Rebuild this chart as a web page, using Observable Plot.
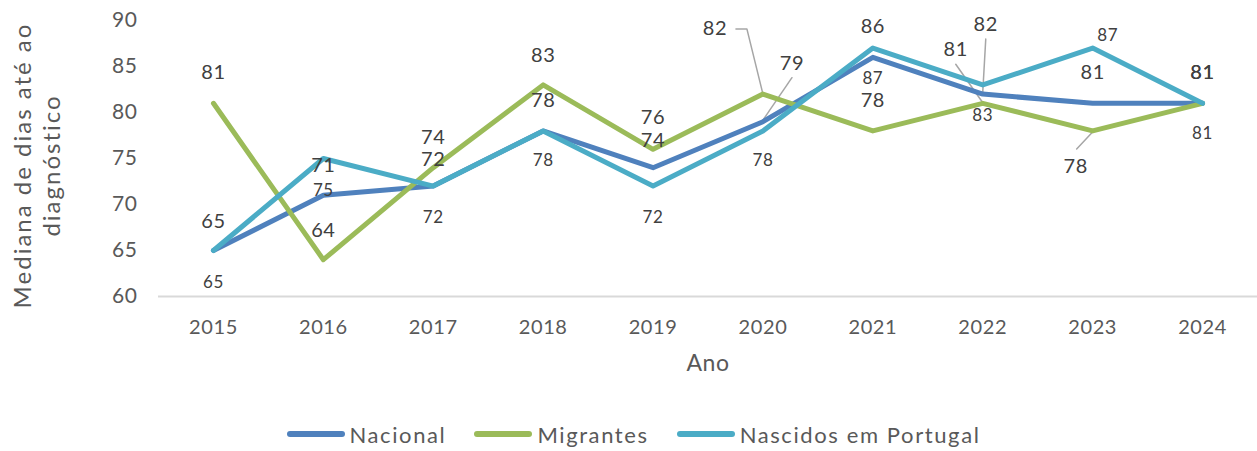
<!DOCTYPE html>
<html><head><meta charset="utf-8">
<script src="https://cdn.jsdelivr.net/npm/d3@7"></script>
<script src="https://cdn.jsdelivr.net/npm/@observablehq/plot@0.6"></script>
<style>
body{margin:0;background:#fff;font-family:Lato,"Noto Sans",sans-serif;}
#legend{display:flex;justify-content:center;align-items:center;height:48px;font-size:22px;letter-spacing:1.6px;color:#595959;margin-left:10px}
.item{display:flex;align-items:center;margin:0 14px}
.sw{width:58px;height:6px;border-radius:3px;margin-right:5px}
.ytitle{letter-spacing:2px}
</style></head><body><div id="chart"></div><div id="legend"></div><script>
// ---- data ----
const years = [2015, 2016, 2017, 2018, 2019, 2020, 2021, 2022, 2023, 2024];
const seriesNames = ["Nacional", "Migrantes", "Nascidos em Portugal"];
const nacional = [65, 71, 72, 78, 74, 79, 86, 82, 81, 81];
const migrantes = [81, 64, 74, 83, 76, 82, 78, 81, 78, 81];
const nascidos = [65, 75, 72, 78, 72, 78, 87, 83, 87, 81];
const yTicks = [60, 65, 70, 75, 80, 85, 90];
const yTitle = "Mediana de dias até ao\ndiagnóstico";
const xTitle = "Ano";

// ---- layout ----
const colors = ["#4f81bd", "#9bbb59", "#4bacc6"];
const W = 1257, H = 410, mL = 158, mR = 0, mT = 20, mB = 114;
const pxX = 10 / (W - mL - mR), pxY = 30 / (H - mT - mB);
// label offsets in px [dx, dy] per series
const offNac = [[0,-29],[0,-30],[0,-27],[0,-30],[0,-27],[29,-58],[0,-31],[3,-70],[0,-31],[0,-31]];
const offMig = [[0,-31],[0,-29],[0,-30],[0,-29],[0,-32],[-48,-66],[0,-30],[-27,-54],[-17,36],[0,-31]];
const offNas = [[0,32],[0,32],[0,31],[0,30],[0,31],[0,30],[0,30],[0,31],[15,-13],[0,30]];
// leader lines: [series values, index, polyline of px offsets]
const leaders = [
  [nacional, 5, [[1,-3],[29,-44]]],
  [nacional, 7, [[0,-2],[3,-55]]],
  [migrantes, 5, [[0,0],[-16,-65],[-27,-65]]],
  [migrantes, 7, [[-1,-2],[-27,-39]]],
  [migrantes, 8, [[-1,2],[-16,18]]]
];

const rows = [];
[nacional, migrantes, nascidos].forEach((arr, s) => years.forEach((yr, i) => rows.push({year: yr, value: arr[i], series: seriesNames[s]})));

const mkLabels = (arr, offs) => years.map((yr, i) => ({x: yr + offs[i][0]*pxX, y: arr[i] - offs[i][1]*pxY, t: String(arr[i])}));
const bigLabels = [...mkLabels(nacional, offNac), ...mkLabels(migrantes, offMig)];
const smallLabels = mkLabels(nascidos, offNas);
const leaderPts = [];
leaders.forEach(([arr, i, pts], k) => pts.forEach(([dx, dy]) => leaderPts.push({k, x: years[i] + dx*pxX, y: arr[i] - dy*pxY})));

const chart = Plot.plot({
  width: W, height: H, marginLeft: mL, marginRight: mR, marginTop: mT, marginBottom: mB,
  style: {fontFamily: "Lato, 'Noto Sans', sans-serif", color: "#595959", background: "#fff", letterSpacing: "0.6px"},
  x: {type: "linear", domain: [2014.5, 2024.5], axis: null},
  y: {domain: [60, 90], axis: null},
  color: {domain: seriesNames, range: colors},
  marks: [
    Plot.ruleY([60], {stroke: "#d9d9d9", strokeWidth: 2}),
    Plot.text(yTicks, {x: 2014.5, y: d => d, text: d => String(d), textAnchor: "end", dx: -21, fontSize: 21, fill: "#595959"}),
    Plot.text(years, {x: d => d, y: 60, text: d => String(d), dy: 31, fontSize: 20, fill: "#595959"}),
    Plot.text([xTitle], {frameAnchor: "bottom", dy: 74, fontSize: 23, fill: "#595959"}),
    Plot.text([yTitle], {frameAnchor: "left", textAnchor: "middle", rotate: -90, dx: -122, dy: 7, fontSize: 24, lineHeight: 1.17, fill: "#595959", className: "ytitle"}),
    Plot.line(leaderPts, {x: "x", y: "y", z: "k", stroke: "#a6a6a6", strokeWidth: 1.5}),
    Plot.line(rows, {x: "year", y: "value", z: "series", stroke: "series", strokeWidth: 5, strokeLinejoin: "round", strokeLinecap: "round"}),
    Plot.text(bigLabels, {x: "x", y: "y", text: "t", fontSize: 20, fill: "#404040"}),
    Plot.text(smallLabels, {x: "x", y: "y", text: "t", fontSize: 17, fill: "#404040"})
  ]
});
document.getElementById("chart").append(chart);
const lg = document.getElementById("legend");
seriesNames.forEach((n, i) => {
  const it = document.createElement("div"); it.className = "item";
  it.innerHTML = `<span class="sw" style="background:${colors[i]}"></span><span>${n}</span>`;
  lg.append(it);
});
</script></body></html>
